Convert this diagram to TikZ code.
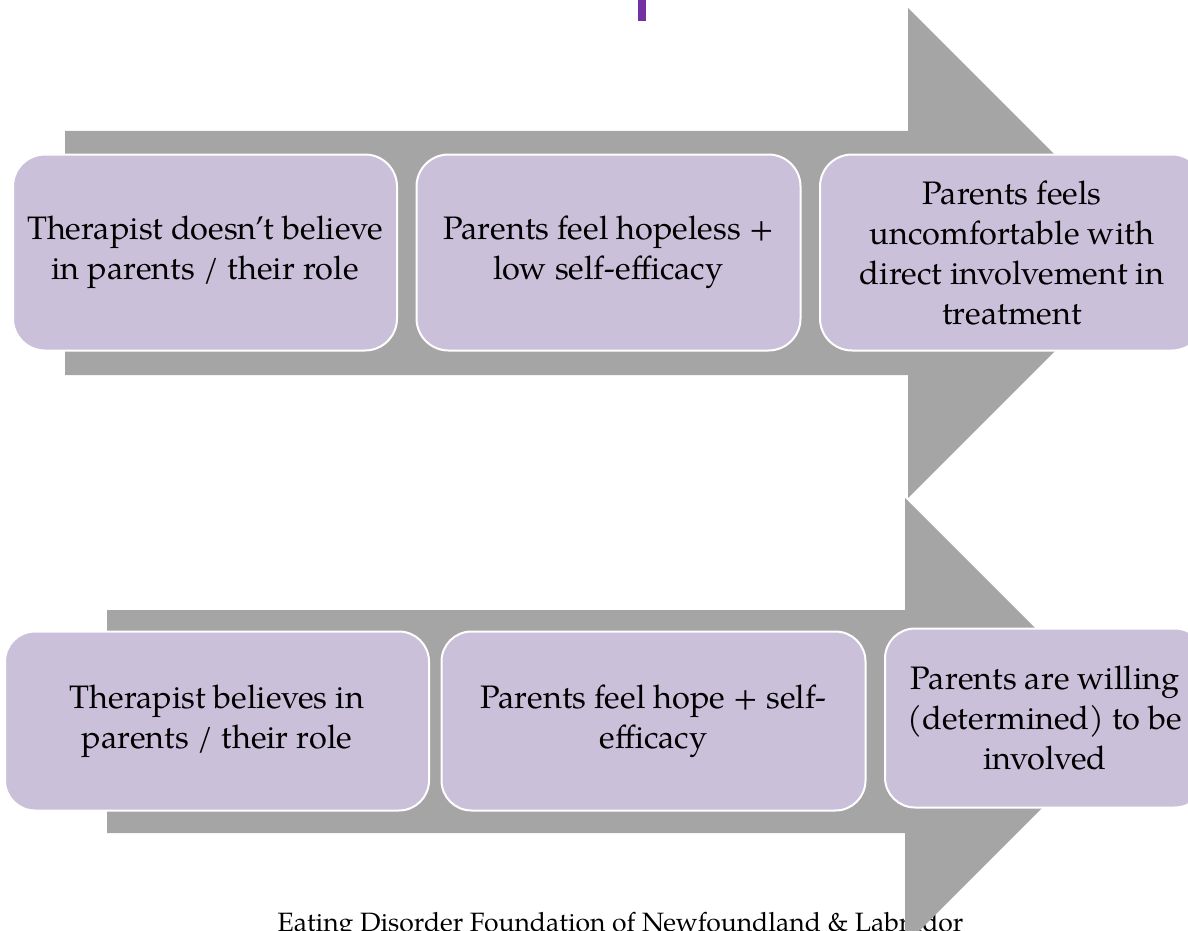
\documentclass[tikz,border=0pt]{standalone}
\usepackage{fontspec}
\setmainfont{TeX Gyre Pagella}
\definecolor{shaftgray}{RGB}{165,165,165}
\definecolor{boxlilac}{RGB}{203,192,218}
\definecolor{barpurple}{RGB}{115,50,163}
\tikzset{
  stage/.style={rectangle, draw=white, line width=2pt, fill=boxlilac,
    align=center, inner sep=0pt, font=\fontsize{32.5}{40}\selectfont},
  toprow/.style={stage, rounded corners=32pt, minimum width=384pt, minimum height=196pt},
  botrow/.style={stage, rounded corners=30pt, minimum width=424pt, minimum height=179pt}
}
\begin{document}
\begin{tikzpicture}[x=1pt, y=-1pt]
            \useasboundingbox (0,0) rectangle (1188,931);
            \clip (0,0) rectangle (1188,931);
            
            % footer, under the lower arrow
            \node[anchor=base, font=\fontsize{26.5}{32}\selectfont] (foot) at (620.5,931) {Eating Disorder Foundation of Newfoundland \& Labrador};
            
            % purple mark at the top
            \fill[barpurple] (638,0) rectangle (646,21);
            
            % the two block arrows
            \fill[shaftgray] (65,131) -- (908,131) -- (908,8) -- (1153,253) -- (908,498) -- (908,375) -- (65,375) -- cycle;
            \fill[shaftgray] (107,610) -- (905,610) -- (905,498) -- (1128.5,721.5) -- (905,945) -- (905,833) -- (107,833) -- cycle;
            
            % upper row
            \node[toprow] (t1) at (205,252.5) {Therapist doesn't believe\\in parents / their role};
            \node[toprow] (t2) at (608.5,252.5) {Parents feel hopeless +\\low self-efficacy};
            \node[toprow] (t3) at (1012,252.5) {Parents feels\\uncomfortable with\\direct involvement in\\treatment};
            
            % lower row
            \node[botrow] (b1) at (217,721) {Therapist believes in\\parents / their role};
            \node[botrow] (b2) at (653.5,721) {Parents feel hope + self-\\efficacy};
            \node[botrow, minimum width=320pt] (b3) at (1045,718) {Parents are willing\\(determined) to be\\involved};
        \end{tikzpicture}
\end{document}
